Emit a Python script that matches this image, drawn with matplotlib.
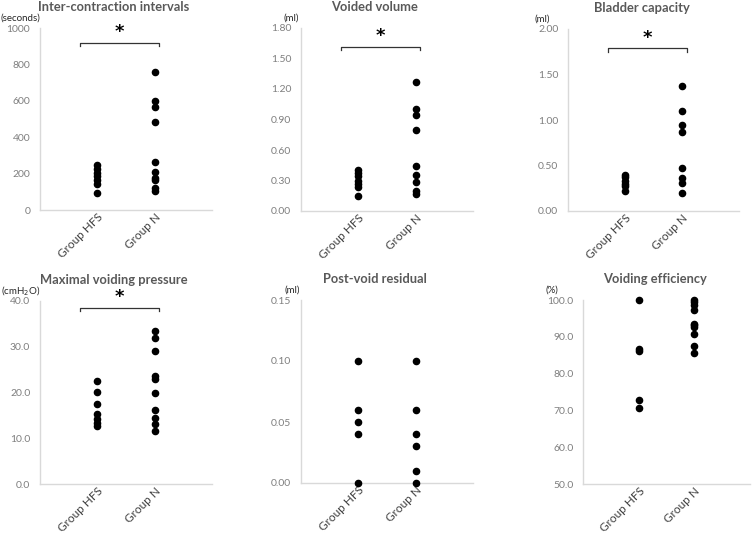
import matplotlib
matplotlib.use("Agg")
import matplotlib.pyplot as plt
from matplotlib.ticker import FixedLocator, FormatStrFormatter
from matplotlib.transforms import ScaledTranslation

plt.rcParams["font.family"] = ["Lato", "DejaVu Sans"]

W, H = 753, 534

groups = ["Group HFS", "Group N"]

titles = ["Inter-contraction intervals", "Voided volume", "Bladder capacity",
          "Maximal voiding pressure", "Post-void residual", "Voiding efficiency"]
units = ["(seconds)", "(ml)", "(ml)", "(cmH$_2$O)", "(ml)", "(%)"]

hfs_ici = [245, 225, 205, 185, 165, 145, 95]
n_ici = [760, 598, 566, 483, 264, 209, 174, 163, 119, 104]
hfs_vv = [0.40, 0.37, 0.34, 0.30, 0.27, 0.24, 0.15]
n_vv = [1.27, 1.00, 0.94, 0.80, 0.44, 0.35, 0.29, 0.20, 0.17]
hfs_bc = [0.40, 0.37, 0.33, 0.30, 0.27, 0.22]
n_bc = [1.37, 1.10, 0.95, 0.87, 0.47, 0.36, 0.31, 0.20]
hfs_mvp = [22.6, 20.2, 17.5, 15.4, 14.3, 13.3, 12.6]
n_mvp = [33.4, 31.9, 29.0, 23.5, 23.0, 19.9, 16.2, 14.4, 13.2, 11.6]
hfs_pvr = [0.10, 0.06, 0.05, 0.04, 0.00]
n_pvr = [0.10, 0.06, 0.04, 0.03, 0.01, 0.00]
hfs_ve = [100.0, 86.8, 86.1, 72.8, 70.6]
n_ve = [100.0, 99.4, 98.7, 97.2, 93.6, 93.2, 92.7, 90.8, 87.5, 85.5]

hfs_all = [hfs_ici, hfs_vv, hfs_bc, hfs_mvp, hfs_pvr, hfs_ve]
n_all = [n_ici, n_vv, n_bc, n_mvp, n_pvr, n_ve]

yticks = [[0, 200, 400, 600, 800, 1000],
          [0.0, 0.3, 0.6, 0.9, 1.2, 1.5, 1.8],
          [0.0, 0.5, 1.0, 1.5, 2.0],
          [0, 10, 20, 30, 40],
          [0.0, 0.05, 0.10, 0.15],
          [50, 60, 70, 80, 90, 100]]
yfmt = ["%d", "%.2f", "%.2f", "%.1f", "%.2f", "%.1f"]

# significance bracket height (None = no bracket)
bracket_y = [919, 1.615, 1.79, 38.5, None, None]

# axes boxes in pixels: left, top, right, bottom
boxes = [(40, 28, 212, 210), (301, 28, 473, 211), (568, 29, 739, 211),
         (40, 301, 212, 484), (301, 300, 473, 483), (583, 300, 750, 484)]
unit_dx = [-20, -10, -26, -19, -9, -31]

tick_col = "#7f7f7f"
title_col = "#595959"
spine_col = "#d9d9d9"

fig = plt.figure(figsize=(W / 100, H / 100), dpi=100)

for i in range(6):
    l, t, r, b = boxes[i]
    ax = fig.add_axes([l / W, 1 - b / H, (r - l) / W, (b - t) / H])
    ax.scatter([1] * len(hfs_all[i]), hfs_all[i], s=20, color="black", zorder=3, clip_on=False)
    ax.scatter([2] * len(n_all[i]), n_all[i], s=20, color="black", zorder=3, clip_on=False)

    ax.set_xlim(0, 3)
    ax.set_ylim(yticks[i][0], yticks[i][-1])
    ax.yaxis.set_major_locator(FixedLocator(yticks[i]))
    ax.yaxis.set_major_formatter(FormatStrFormatter(yfmt[i]))
    ax.set_xticks([1, 2])
    ax.set_xticklabels(groups, rotation=45, ha="right", rotation_mode="anchor",
                       fontsize=8.5, color="#404040")
    shift = ScaledTranslation(9 / 100, 0, fig.dpi_scale_trans)
    for lab in ax.get_xticklabels():
        lab.set_transform(lab.get_transform() + shift)
    ax.tick_params(axis="y", length=0, pad=7, labelsize=7.5, labelcolor=tick_col)
    ax.tick_params(axis="x", length=0, pad=1)
    for s in ["top", "right"]:
        ax.spines[s].set_visible(False)
    for s in ["left", "bottom"]:
        ax.spines[s].set_color(spine_col)
        ax.spines[s].set_linewidth(1.0)

    ax.annotate(titles[i], xy=(0.43, 1), xycoords="axes fraction", xytext=(0, 15),
                textcoords="offset points", ha="center", va="center",
                fontsize=9.3, fontweight="bold", color=title_col)
    ax.annotate(units[i], xy=(0, 1), xycoords="axes fraction",
                xytext=(unit_dx[i] * 0.72, 7), textcoords="offset points",
                ha="center", va="center", fontsize=7, color="#262626")

    if bracket_y[i] is not None:
        yb = bracket_y[i]
        leg = (yticks[i][-1] - yticks[i][0]) * 0.019
        ax.plot([0.7, 0.7, 2.08, 2.08], [yb - leg, yb, yb, yb - leg],
                color="#333333", lw=0.9, clip_on=False)
        ax.annotate("*", xy=(1.39, yb), xycoords="data", xytext=(0, 1),
                    textcoords="offset points", ha="center", va="bottom",
                    fontsize=13, fontweight="bold", color="black",
                    family="DejaVu Sans", annotation_clip=False)

fig.savefig("out.png", dpi=100)
